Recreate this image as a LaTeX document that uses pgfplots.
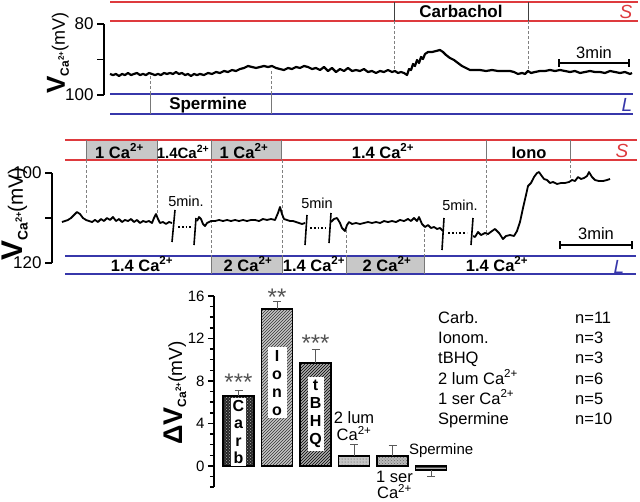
\documentclass[border=0pt]{standalone}
\usepackage{fontspec}
\setmainfont{Liberation Sans}
\usepackage{pgfplots}
\pgfplotsset{compat=1.18}
\usetikzlibrary{patterns}
\newcommand\fs[1]{\fontsize{#1}{#1}\selectfont}
\definecolor{rl}{RGB}{222,58,62}
\definecolor{bl}{RGB}{55,55,170}
\definecolor{boxgray}{RGB}{200,200,200}
\definecolor{sepgray}{RGB}{120,120,120}
\newcommand\vlab{{\bfseries\fs{26}V}\raisebox{-4pt}{\bfseries\fs{12}Ca\raisebox{5pt}{\fs{8}2+}}{\fs{18}(mV)}}
\newcommand\cc{Ca\textsuperscript{2+}}

\pgfplotstableread{
x mV
110 94.08
113 94.37
116 94.08
119 94.65
122 94.08
125 94.37
128 93.80
131 94.37
134 94.08
137 93.80
140 94.37
143 94.08
146 94.37
149 93.80
152 94.08
155 94.37
158 94.08
161 94.37
164 93.80
167 94.08
170 93.80
173 94.08
176 93.52
179 94.08
182 93.80
185 94.37
188 94.08
191 94.65
194 94.08
197 94.37
200 94.08
204 94.37
208 93.80
212 94.08
216 93.52
220 93.80
224 93.24
228 93.52
232 92.96
236 93.24
240 92.68
244 92.39
248 91.83
252 92.11
256 92.39
260 92.11
264 91.83
268 92.11
272 91.83
276 92.39
280 92.68
284 92.96
288 92.39
292 92.68
296 92.11
300 92.39
304 91.83
308 92.11
312 92.68
316 92.39
320 92.96
324 92.11
328 93.24
332 92.39
336 93.52
340 92.68
344 93.24
348 92.39
352 93.24
356 92.96
360 93.24
364 92.68
368 93.52
372 93.24
376 93.80
380 93.24
384 93.52
388 92.96
392 93.52
395 93.24
398 93.80
401 93.52
404 93.80
407 94.37
409 92.68
411 92.96
413 91.27
415 91.83
417 90.14
419 90.99
421 89.30
423 89.86
425 88.45
428 87.89
432 87.89
436 87.61
440 87.32
443 87.89
446 88.73
450 89.58
454 90.14
458 90.99
462 91.83
466 92.39
470 92.96
475 92.96
480 92.96
486 93.24
492 92.96
498 93.24
504 93.24
510 93.24
514 93.52
518 94.08
522 93.80
525 94.08
528 93.24
531 93.80
535 93.52
540 93.24
545 93.24
550 92.96
555 93.24
560 92.96
565 93.24
570 93.52
575 93.24
580 93.80
585 93.52
590 93.24
595 93.52
600 93.52
605 93.80
610 93.24
615 93.52
620 93.80
625 93.52
630 94.08
632 93.80
}\toptrace

\pgfplotstableread{
x mV
62 110.89
65 110.67
68 110.44
71 110.00
74 109.33
77 108.67
80 109.11
83 110.00
86 110.44
89 110.67
92 110.89
95 110.44
98 110.89
101 110.22
104 110.67
107 110.00
110 110.44
113 109.78
116 110.67
119 110.22
122 110.89
125 110.44
128 110.67
131 110.22
134 110.89
137 110.44
140 111.11
143 110.67
146 110.89
149 110.67
152 111.11
154 110.00
156 109.11
158 110.22
160 111.11
163 110.89
166 111.33
169 110.89
172 111.11
}\segA

\pgfplotstableread{
x mV
197 110.67
199 109.78
201 110.22
203 111.33
205 111.78
207 111.11
209 110.89
211 110.67
215 110.67
219 110.44
223 110.67
227 110.44
231 110.67
235 110.44
239 110.67
243 110.44
247 110.67
251 110.44
255 110.44
259 110.67
263 110.22
267 110.44
271 110.22
275 110.44
278 108.89
280 107.56
282 109.11
284 110.22
287 110.44
290 110.67
293 110.67
296 110.89
299 111.11
302 111.33
305 111.11
}\segB

\pgfplotstableread{
x mV
331 110.89
334 110.22
337 110.00
340 111.11
342 112.22
345 112.89
347 111.56
349 110.89
352 111.33
356 111.11
360 111.33
364 111.11
368 110.89
372 111.11
376 110.89
380 111.11
384 110.67
388 110.89
392 110.67
396 110.89
400 110.44
404 110.67
408 110.22
411 110.67
414 110.00
417 110.67
419 109.78
422 111.33
425 112.00
428 111.56
431 112.22
434 112.00
437 112.44
440 112.22
443 112.89
}\segC

\pgfplotstableread{
x mV
473 114.00
475 114.22
478 113.11
481 113.78
485 113.33
488 113.56
492 112.89
495 112.44
499 113.33
503 114.67
506 114.00
510 113.78
514 114.00
517 112.89
520 110.89
523 107.78
526 104.89
528 102.89
531 102.22
534 100.89
537 100.00
539 99.78
541 100.44
544 101.33
547 101.56
550 102.22
553 102.00
557 102.44
561 102.22
565 102.22
569 102.00
572 101.56
575 101.78
578 100.89
581 101.33
584 101.11
587 100.67
589 99.78
592 100.89
595 101.56
599 101.78
603 101.78
607 101.56
610 101.33
}\segD

\begin{document}
\begin{tikzpicture}
\path[use as bounding box] (0,0) rectangle (640pt,-501pt);

% ---------- annotation bars (drawn first, under the traces)
\begin{scope}[x=1pt,y=-1pt]
% top panel
\draw[rl, line width=1.2pt] (110,2)--(638,2) (110,21)--(638,21);
\draw[bl, line width=1.2pt] (110,94)--(633,94) (110,114)--(633,114);
\draw[black!75, line width=1pt] (394,2)--(394,21) (528,2)--(528,21);
\draw[sepgray, line width=1pt] (150,94)--(150,114) (271,94)--(271,114);
\draw[gray, densely dashed, line width=0.5pt] (394,21)--(394,70) (528,21)--(528,70) (150,76)--(150,94) (271,71)--(271,94);
\node[font=\bfseries\fs{17}, anchor=base, inner sep=0pt] at (461,17) {Carbachol};
\node[font=\bfseries\fs{17}, anchor=base, inner sep=0pt] at (208,109) {Spermine};
\node[rl, font=\itshape\fs{19}] at (626,12) {S};
\node[bl, font=\itshape\fs{19}] at (627,105) {L};
\draw[line width=1.5pt] (559,63)--(629,63) (559,59)--(559,67) (629,59)--(629,67);
\node[font=\fs{16.5}, anchor=base, inner sep=0pt] at (594,58) {3min};
\node[rotate=90] at (58,53) {\vlab};
% middle panel
\fill[boxgray] (86,140) rectangle (157,160) (211,140) rectangle (281,160)
  (211,256) rectangle (282,274) (346,256) rectangle (424,274);
\draw[rl, line width=1.2pt] (65,140)--(637,140) (65,160)--(637,160);
\draw[bl, line width=1.2pt] (65,256)--(636,256) (65,274)--(636,274);
\draw[sepgray, line width=1pt] (86,140)--(86,160) (157,140)--(157,160) (211,140)--(211,160)
  (281,140)--(281,160) (486,140)--(486,160) (570,140)--(570,160)
  (211,256)--(211,274) (282,256)--(282,274) (346,256)--(346,274) (424,256)--(424,274);
\draw[gray, densely dashed, line width=0.5pt] (86,160)--(86,214) (157,160)--(157,213)
  (211,160)--(211,256) (282,160)--(282,256) (346,230)--(346,256) (424,229)--(424,256)
  (486,160)--(486,236) (570,160)--(570,181);
\begin{scope}[every node/.style={font=\bfseries\fs{16.5}, anchor=base, inner sep=0pt}]
\node at (119.5,158) {1 \cc};
\node[font=\bfseries\fs{15}] at (183,158) {1.4\cc};
\node at (244,158) {1 \cc};
\node at (383,158) {1.4 \cc};
\node at (529,158) {Iono};
\node at (142,271) {1.4 \cc};
\node at (248,271) {2 \cc};
\node at (314,271) {1.4 \cc};
\node at (387,271) {2 \cc};
\node at (497,271) {1.4 \cc};
\end{scope}
\node[rl, font=\itshape\fs{19}] at (622,151) {S};
\node[bl, font=\itshape\fs{19}] at (619,267) {L};
\draw[line width=1.5pt] (560,245)--(632,245) (560,241)--(560,249) (632,241)--(632,249);
\node[font=\fs{16.5}, anchor=base, inner sep=0pt] at (596,239) {3min};
\node[font=\fs{14.5}, anchor=base, inner sep=0pt] at (186,206) {5min.};
\node[font=\fs{14.5}, anchor=base, inner sep=0pt] at (317,208) {5min};
\node[font=\fs{14.5}, anchor=base, inner sep=0pt] at (460,210) {5min.};
\node[rotate=90, scale=1.15] at (15,214) {\vlab};
% bar panel label and legend text
\node[rotate=90] at (175,393) {{\bfseries\fs{27}ΔV}\raisebox{-4pt}{\bfseries\fs{12}Ca\raisebox{5pt}{\fs{8}2+}}{\fs{19}(mV)}};
\begin{scope}[every node/.style={font=\fs{16.5}, anchor=base west, inner sep=0pt}]
\node at (438,323) {Carb.};      \node at (575,323) {n=11};
\node at (438,343) {Ionom.};     \node at (575,343) {n=3};
\node at (438,363) {tBHQ};       \node at (575,363) {n=3};
\node at (438,384) {2 lum \cc};  \node at (575,384) {n=6};
\node at (438,404) {1 ser \cc};  \node at (575,404) {n=5};
\node at (438,424) {Spermine};   \node at (575,424) {n=10};
\end{scope}
\end{scope}

% ---------- top trace
\begin{axis}[at={(372pt,-59.5pt)}, anchor=center, scale only axis,
  width=536pt, height=71pt, xmin=104, xmax=640, ymin=80, ymax=100, y dir=reverse,
  axis x line=none, axis y line=left, axis line style={-, line width=1.8pt},
  ytick={80,100}, extra y ticks={90}, extra y tick labels={}, extra y tick style={grid=none},
  tick align=outside, major tick length=7pt, tick style={line width=1.8pt, black},
  yticklabel style={font=\fs{17}}, /pgf/number format/assume math mode=true,
  clip=false]
\addplot[black, line width=2.2pt, mark=none, line join=round] table[x=x, y=mV] {\toptrace};
\end{axis}

% ---------- middle trace
\begin{axis}[at={(346pt,-218pt)}, anchor=center, scale only axis,
  width=588pt, height=90pt, xmin=52, xmax=640, ymin=100, ymax=120, y dir=reverse,
  axis x line=none, axis y line=left, axis line style={-, line width=1.8pt},
  ytick={100,120}, extra y ticks={110}, extra y tick labels={}, extra y tick style={grid=none},
  tick align=outside, major tick length=7pt, tick style={line width=1.8pt, black},
  yticklabel style={font=\fs{17}}, /pgf/number format/assume math mode=true,
  clip=false]
\addplot[black, line width=1.8pt, mark=none, line join=round] table[x=x, y=mV] {\segA};
\addplot[black, line width=1.8pt, mark=none, line join=round] table[x=x, y=mV] {\segB};
\addplot[black, line width=1.8pt, mark=none, line join=round] table[x=x, y=mV] {\segC};
\addplot[black, line width=1.8pt, mark=none, line join=round] table[x=x, y=mV] {\segD};
% break marks
\addplot[black, line width=1.6pt, mark=none] coordinates {(175,108.22) (172,115.33)};
\addplot[black, line width=1.6pt, mark=none] coordinates {(196,110.00) (194,116.00)};
\addplot[black, line width=1.6pt, mark=none] coordinates {(307,109.33) (305,116.00)};
\addplot[black, line width=1.6pt, mark=none] coordinates {(331,108.89) (329,115.56)};
\addplot[black, line width=1.6pt, mark=none] coordinates {(444,110.00) (442,117.11)};
\addplot[black, line width=1.6pt, mark=none] coordinates {(473,110.00) (471,116.00)};
\addplot[black, line width=1.8pt, dotted, mark=none] coordinates {(178,112.00) (192,112.00)};
\addplot[black, line width=1.8pt, dotted, mark=none] coordinates {(310,112.22) (326,112.22)};
\addplot[black, line width=1.8pt, dotted, mark=none] coordinates {(448,113.33) (467,113.33)};
\end{axis}

% ---------- bar chart
\begin{axis}[at={(337pt,-391.6pt)}, anchor=center, scale only axis,
  width=246pt, height=191.25pt, xmin=-0.636, xmax=5.75, ymin=-2, ymax=16,
  axis x line=none, axis y line=left, axis line style={-, line width=1.6pt},
  ytick={0,4,8,12,16}, minor ytick={-2,-1,1,2,3,5,6,7,9,10,11,13,14,15},
  tick align=outside, major tick length=6pt, minor tick length=4pt,
  tick style={line width=1.5pt, black},
  yticklabel style={font=\fs{15}}, /pgf/number format/assume math mode=true,
  clip=false,
  error bars/error bar style={line width=1pt, black!65},
  error bars/error mark options={rotate=90, mark size=4pt, line width=1pt, black!65}]
\addplot[ybar, bar width=31pt, bar shift=0pt, draw=black, line width=1.6pt, fill=black!85,
  postaction={pattern=crosshatch dots, pattern color=white!70!black},
  error bars/.cd, y dir=plus, y explicit] coordinates {(0,6.6) +- (0,0.55)};
\addplot[ybar, bar width=31pt, bar shift=0pt, draw=black, line width=1.6pt, fill=gray!45,
  postaction={pattern=north east lines, pattern color=black!80},
  error bars/.cd, y dir=plus, y explicit] coordinates {(1,14.8) +- (0,0.7)};
\addplot[ybar, bar width=31pt, bar shift=0pt, draw=black, line width=1.6pt, fill=gray!65,
  postaction={pattern=north east lines, pattern color=black},
  error bars/.cd, y dir=plus, y explicit] coordinates {(2,9.7) +- (0,1.3)};
\addplot[ybar, bar width=31pt, bar shift=0pt, draw=black, line width=1.6pt, fill=gray!45,
  postaction={pattern=dots, pattern color=black!70},
  error bars/.cd, y dir=plus, y explicit] coordinates {(3,0.95) +- (0,1.05)};
\addplot[ybar, bar width=31pt, bar shift=0pt, draw=black, line width=1.6pt, fill=gray!55,
  postaction={pattern=crosshatch dots, pattern color=black!60},
  error bars/.cd, y dir=plus, y explicit] coordinates {(4,0.95) +- (0,0.95)};
\addplot[ybar, bar width=31pt, bar shift=0pt, draw=black, line width=1.6pt, fill=gray!60,
  postaction={pattern=horizontal lines, pattern color=black!70},
  error bars/.cd, y dir=minus, y explicit] coordinates {(5,-0.4) +- (0,0.6)};
% white inner boxes with vertical names
\node[fill=white, inner xsep=0pt, inner ysep=2pt, text width=15pt, align=center, anchor=north,
  font=\bfseries\fontsize{16}{17.5}\selectfont] at (axis cs:0,6.4) {C\\a\\r\\b};
\node[fill=white, inner xsep=0pt, inner ysep=3pt, text width=19pt, align=center, anchor=north,
  font=\bfseries\fontsize{16}{18}\selectfont] at (axis cs:1,11.2) {I\\o\\n\\o};
\node[fill=white, inner xsep=0pt, inner ysep=3pt, text width=16pt, align=center, anchor=north,
  font=\bfseries\fontsize{16}{18}\selectfont] at (axis cs:2,8.4) {t\\B\\H\\Q};
% significance and labels
\node[anchor=base, inner sep=0pt, font=\fs{24}, gray!65!black] at (axis cs:0,7.06) {***};
\node[anchor=base, inner sep=0pt, font=\fs{24}, gray!65!black] at (axis cs:1,15.06) {**};
\node[anchor=base, inner sep=0pt, font=\fs{24}, gray!65!black] at (axis cs:2,10.82) {***};
\node[align=center, inner sep=0pt, font=\fontsize{16.5}{16.5}\selectfont] at (axis cs:3,3.75) {2 lum\\\cc};
\node[align=center, inner sep=0pt, font=\fontsize{16.5}{16.5}\selectfont] at (axis cs:4.05,-1.8) {1 ser\\\cc};
\node[inner sep=0pt, font=\fs{15}] at (axis cs:5.26,1.41) {Spermine};
\end{axis}
\end{tikzpicture}
\end{document}
